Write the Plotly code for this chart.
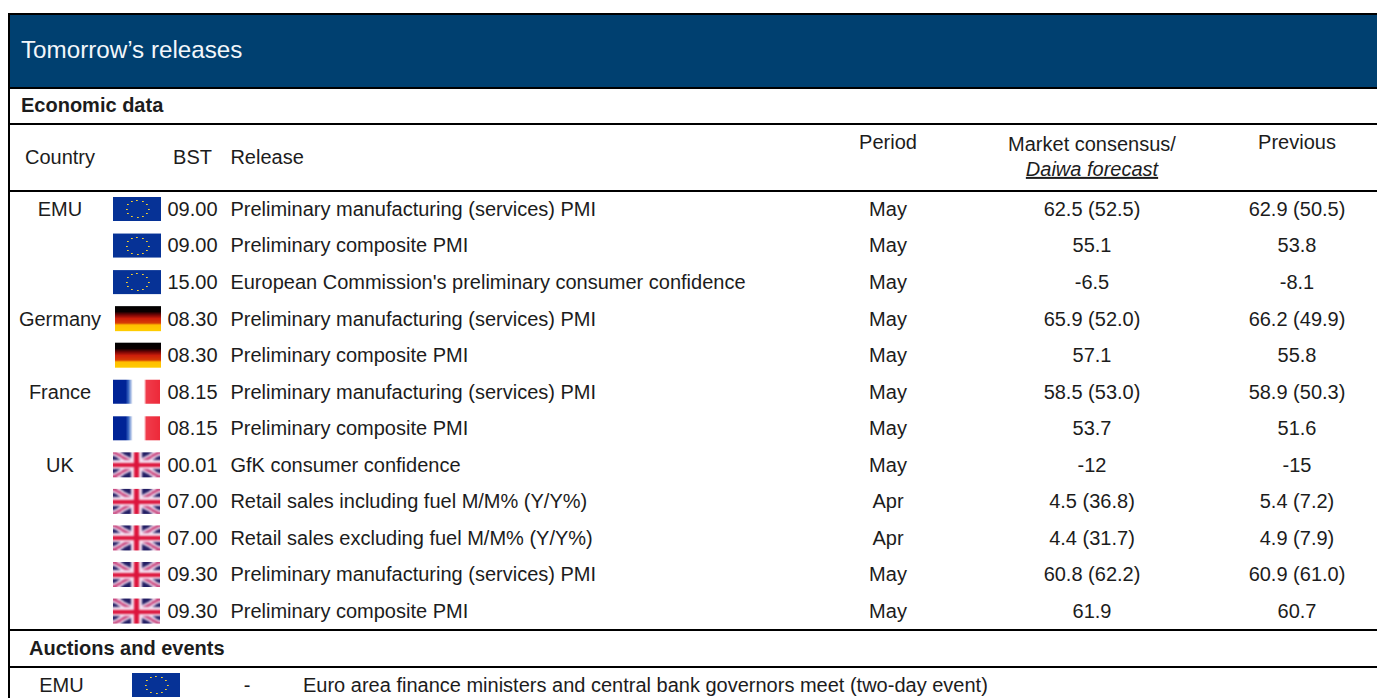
import numpy as np
import plotly.graph_objects as go

title = "Tomorrow’s releases"
countries = ["EMU", "", "", "Germany", "", "France", "", "UK", "", "", "", ""]
flags = ["eu", "eu", "eu", "de", "de", "fr", "fr", "uk", "uk", "uk", "uk", "uk"]
bst = ["09.00", "09.00", "15.00", "08.30", "08.30", "08.15", "08.15", "00.01", "07.00", "07.00", "09.30", "09.30"]
releases = [
    "Preliminary manufacturing (services) PMI",
    "Preliminary composite PMI",
    "European Commission's preliminary consumer confidence",
    "Preliminary manufacturing (services) PMI",
    "Preliminary composite PMI",
    "Preliminary manufacturing (services) PMI",
    "Preliminary composite PMI",
    "GfK consumer confidence",
    "Retail sales including fuel M/M% (Y/Y%)",
    "Retail sales excluding fuel M/M% (Y/Y%)",
    "Preliminary manufacturing (services) PMI",
    "Preliminary composite PMI",
]
periods = ["May", "May", "May", "May", "May", "May", "May", "May", "Apr", "Apr", "May", "May"]
consensus = ["62.5 (52.5)", "55.1", "-6.5", "65.9 (52.0)", "57.1", "58.5 (53.0)", "53.7", "-12",
             "4.5 (36.8)", "4.4 (31.7)", "60.8 (62.2)", "61.9"]
previous = ["62.9 (50.5)", "53.8", "-8.1", "66.2 (49.9)", "55.8", "58.9 (50.3)", "51.6", "-15",
            "5.4 (7.2)", "4.9 (7.9)", "60.9 (61.0)", "60.7"]
event = ["EMU", "-", "Euro area finance ministers and central bank governors meet (two-day event)"]

FONT = "Liberation Sans, Arial, sans-serif"
SIZE = 20
INK = "#1c1c1c"
row_y = [209 + i * 36.55 for i in range(12)]
T = 1.9  # text baseline nudge


def flag_eu(w, h):
    img = np.zeros((h, w, 3), float) + [6, 50, 150]
    cx, cy = w / 2, h / 2
    for k in range(12):
        a = k * np.pi / 6
        x, y = cx + 11 * np.cos(a), cy + 8.2 * np.sin(a)
        img[int(y), int(x)] = [250, 210, 40]
        img[int(y), int(x) + 1] = [190, 170, 80]
    return img


def flag_de(w, h):
    stops = [0, .22, .36, .5, .68, .76, 1]
    cols = np.array([[0, 0, 0], [10, 0, 0], [120, 5, 5], [205, 30, 10], [215, 60, 5], [255, 190, 0], [255, 205, 0]])
    img = np.zeros((h, w, 3))
    for c in range(3):
        img[:, :, c] = np.interp((np.arange(h) + .5) / h, stops, cols[:, c])[:, None]
    return img


def flag_fr(w, h):
    stops = [0, .27, .33, .42, .66, .71, 1]
    cols = np.array([[0, 35, 150], [0, 35, 150], [60, 105, 195], [255, 255, 255], [255, 255, 255], [240, 60, 75], [237, 41, 57]])
    img = np.zeros((h, w, 3))
    for c in range(3):
        img[:, :, c] = np.interp((np.arange(w) + .5) / w, stops, cols[:, c])[None, :]
    return img


def flag_uk(w, h):
    yy, xx = np.mgrid[0:h, 0:w]
    u, v = (xx + .5) / w - .5, (yy + .5) / h - .5
    img = np.zeros((h, w, 3)) + [35, 30, 100]
    diag = np.minimum(np.abs(u - v), np.abs(u + v)) * h
    img[diag < 3.6] = [240, 220, 240]
    img[diag < 1.5] = [200, 70, 125]
    img[(np.abs(u) * w < 5.5) | (np.abs(v) * h < 4.5)] = [245, 225, 240]
    img[(np.abs(u) * w < 2.6) | (np.abs(v) * h < 2)] = [220, 20, 60]
    # soft, low-resolution look of the source bitmap
    k = np.array([1, 2, 1]) / 4
    pad = np.pad(img, ((2, 2), (2, 2), (0, 0)), mode="edge")
    for c in range(3):
        a = pad[:, :, c]
        for _ in range(2):
            a = np.apply_along_axis(lambda r: np.convolve(r, k, "same"), 0, a)
            a = np.apply_along_axis(lambda r: np.convolve(r, k, "same"), 1, a)
        img[:, :, c] = a[2:-2, 2:-2]
    return img


SIZES = {"eu": (flag_eu, 48, 24), "de": (flag_de, 46, 25), "fr": (flag_fr, 47, 24), "uk": (flag_uk, 47, 25)}
X0 = {"eu": 113, "de": 115, "fr": 113, "uk": 113}

fig = go.Figure()


def add_flag(kind, x0, yc):
    fn, w, h = SIZES[kind]
    fig.add_trace(go.Image(z=fn(w, h), x0=x0 + .5, y0=yc - h / 2 + .5, dx=1, dy=1,
                           colormodel="rgb", hoverinfo="skip"))


for kind, yc in zip(flags, row_y):
    add_flag(kind, X0[kind], yc)
add_flag("eu", 132, 685)


def column(x, ys, texts, pos, bold=False, size=SIZE, color=INK):
    fig.add_trace(go.Scatter(
        x=[x] * len(ys), y=[y + T for y in ys], text=[f"<b>{t}</b>" if bold else t for t in texts],
        mode="text", textposition=pos, hoverinfo="skip", cliponaxis=False,
        textfont=dict(family=FONT, size=size, color=color)))


column(60, row_y, countries, "middle center")
column(192.5, row_y, bst, "middle center")
column(230.4, row_y, releases, "middle right")
column(888, row_y, periods, "middle center")
column(1092, row_y, consensus, "middle center")
column(1297, row_y, previous, "middle center")

column(60, [157], ["Country"], "middle center")
column(192.5, [157], ["BST"], "middle center")
column(230.4, [157], ["Release"], "middle right")
column(888, [142], ["Period"], "middle center")
column(1092, [144], ["Market consensus/"], "middle center")
column(1092, [169], ["<i><u>Daiwa forecast</u></i>"], "middle center")
column(1297, [142], ["Previous"], "middle center")

column(21, [50], [title], "middle right", size=24.2, color="#f2f6fa")
column(21, [105], ["Economic data"], "middle right", bold=True)
column(29, [648], ["Auctions and events"], "middle right", bold=True)
column(61.5, [685], [event[0]], "middle center")
column(247, [685], [event[1]], "middle center")
column(303, [685], [event[2]], "middle right")

shapes = [dict(type="rect", x0=9, x1=1377, y0=15, y1=88, fillcolor="#004070", line_width=0, layer="below")]
for y in [14, 88, 124, 191, 630, 667]:
    shapes.append(dict(type="line", x0=8, x1=1377, y0=y, y1=y, line=dict(color="#000", width=2)))
shapes.append(dict(type="line", x0=9, x1=9, y0=13, y1=698, line=dict(color="#000", width=2)))

fig.update_layout(
    width=1377, height=698, margin=dict(l=0, r=0, t=0, b=0), showlegend=False,
    paper_bgcolor="#fff", plot_bgcolor="#fff", shapes=shapes,
    xaxis=dict(range=[0, 1377], visible=False, fixedrange=True),
    yaxis=dict(range=[698, 0], visible=False, fixedrange=True, autorange=False),
)
fig.write_html("out.html", config=dict(displayModeBar=False),
               post_script="document.body.style.margin='0';document.body.style.overflow='hidden';")
